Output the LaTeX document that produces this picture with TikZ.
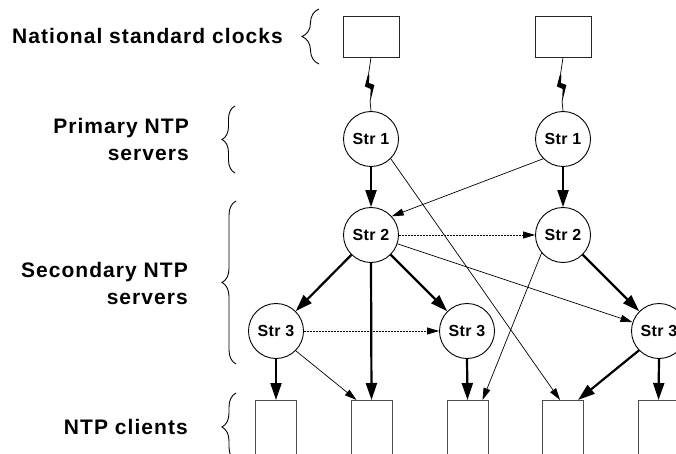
\documentclass[tikz,border=0pt]{standalone}
\usepackage{fontspec}
\setmainfont{Liberation Sans}
\newfontfamily\tierfont{Liberation Sans}[LetterSpace=5]
\newfontfamily\serverfont{Liberation Sans}[LetterSpace=2]
\usetikzlibrary{arrows.meta,decorations.pathreplacing,calc}

\begin{document}
\begin{tikzpicture}[x=1pt,y=-1pt,
  server/.style={circle,draw,line width=0.9pt,minimum size=55pt,inner sep=0pt,
    font=\serverfont\bfseries\fontsize{16}{19}\selectfont},
  clockbox/.style={draw=black!85,line width=0.9pt,minimum width=56pt,minimum height=41pt,inner sep=0pt},
  clientbox/.style={draw=black!70,line width=1pt,minimum width=41pt,minimum height=70pt,
    anchor=north,inner sep=0pt},
  tier/.style={font=\tierfont\bfseries\fontsize{21}{25}\selectfont,anchor=base east,inner sep=0pt},
  heavy/.style={line width=2.2pt,-{Triangle[length=17pt,width=11pt]}},
  light/.style={line width=0.7pt,-{Triangle[length=12pt,width=7pt]}},
  lightdash/.style={light,dash pattern=on 2pt off 1pt},
  tierbrace/.style={decorate,decoration={brace,amplitude=#1},line width=0.9pt},
]
\useasboundingbox (0,0) rectangle (676,454);
\clip (0,0) rectangle (676,454);

% tier labels
\node[tier] (lblClocks) at (283,44) {National standard clocks};
\node[tier] (lblPrimA) at (189,133.5) {Primary NTP};
\node[tier] (lblPrimB) at (189,160.5) {servers};
\node[tier] (lblSecA) at (188,277.5) {Secondary NTP};
\node[tier] (lblSecB) at (188,304) {servers};
\node[tier] (lblCli) at (188,434.5) {NTP clients};

% tier braces
\draw[tierbrace=17] (319,64) -- (319,9);
\draw[tierbrace=13] (235,173) -- (235,106);
\draw[tierbrace=14] (236,364) -- (236,201);
\draw[tierbrace=14] (236,461) -- (236,393);

% reference clocks
\node[clockbox] (clkL) at (371,36.5) {};
\node[clockbox] (clkR) at (563,36.5) {};

% servers
\node[server] (s1l) at (371,139) {Str 1};
\node[server] (s1r) at (563,139) {Str 1};
\node[server] (s2l) at (371,235) {Str 2};
\node[server] (s2r) at (563,235) {Str 2};
\node[server] (s3l) at (276,331) {Str 3};
\node[server] (s3m) at (467,331) {Str 3};
\node[server] (s3r) at (659,331) {Str 3};

% clients
\node[clientbox] (c1) at (276,400) {};
\node[clientbox] (c2) at (371.5,400) {};
\node[clientbox] (c3) at (467.5,400) {};
\node[clientbox] (c4) at (563,400) {};
\node[clientbox] (c5) at (658.5,400) {};

% radio links from the clocks
\foreach \c/\s in {clkL/s1l,clkR/s1r}{
  \draw[line width=0.7pt] (\c.south) -- ($(\c.south)+(-2.8,19)$);
  \fill ($(\c.south)+(-3.3,18)$) -- ($(\c.south)+(-6.2,29)$) -- ($(\c.south)+(-0.3,31.5)$)
    -- ($(\c.south)+(-1,45)$) -- ($(\c.south)+(3.4,27.5)$) -- ($(\c.south)+(-2.2,25.5)$)
    -- ($(\c.south)+(-1.6,18)$) -- cycle;
  \draw[line width=0.7pt] ($(\c.south)+(-1,43)$) -- (\s.north);
}

% synchronisation paths
\draw[heavy] (s1l) -- (s2l);
\draw[heavy] (s1r) -- (s2r);
\draw[light] (s1l.-45) -- ($(c4.north)+(-3,0)$);
\draw[light] (s1r.225) -- (s2l.42);
\draw[lightdash] (s2l) -- (s2r);
\draw[heavy] (s2l) -- (s3l);
\draw[heavy] (s2l) -- (s3m);
\draw[heavy] (s2l.south) -- (c2.north);
\draw[light] (s2l) -- (s3r);
\draw[heavy] (s2r) -- (s3r);
\draw[light] (s2r.220) -- ($(c3.north)+(15,0)$);
\draw[lightdash] (s3l) -- (s3m);
\draw[heavy] (s3l.south) -- (c1.north);
\draw[light] (s3l.-45) -- ($(c2.north)+(-15,0)$);
\draw[heavy] (s3m.south) -- (c3.north);
\draw[heavy] (s3r.224) -- ($(c4.north)+(15,0)$);
\draw[heavy] (s3r.south) -- (c5.north);
\end{tikzpicture}
\end{document}
